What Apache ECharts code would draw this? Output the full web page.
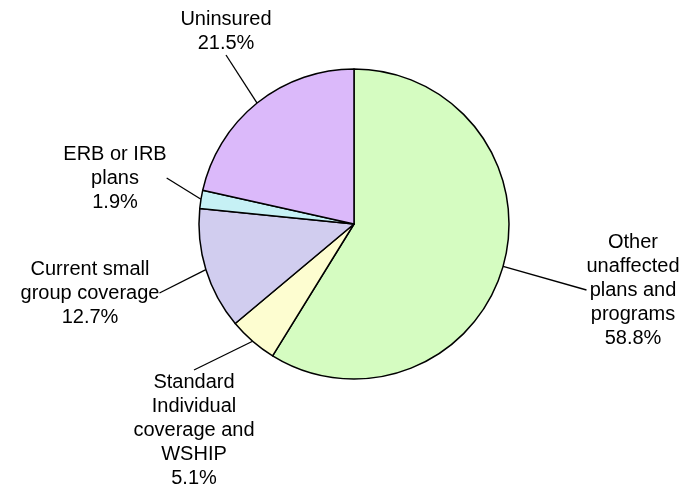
<!DOCTYPE html>
<html><head><meta charset="utf-8">
<script src="https://cdn.jsdelivr.net/npm/echarts@6/dist/echarts.min.js"></script>
<style>html,body{margin:0;padding:0;background:#fff}#c{width:685px;height:489px}</style>
</head><body><div id="c"></div>
<script>
const categories = ["Other\nunaffected\nplans and\nprograms", "Standard\nIndividual\ncoverage and\nWSHIP", "Current small\ngroup coverage", "ERB or IRB\nplans", "Uninsured"];
const values = [58.8, 5.1, 12.7, 1.9, 21.5];
const colors = ["#d5fcc1", "#fdfdd0", "#d1cdef", "#c6f1f5", "#dbb9fa"];
const labelCenters = [[633, 290], [194, 430], [90, 293], [115, 178], [226, 31]];

const chart = echarts.init(document.getElementById('c'), null, {renderer: 'canvas'});
chart.setOption({
  animation: false,
  backgroundColor: '#ffffff',
  series: [{
    type: 'pie',
    center: [354, 224],
    radius: [0, 155],
    startAngle: 90,
    clockwise: true,
    data: categories.map((n, i) => ({name: n, value: values[i], itemStyle: {color: colors[i]}})),
    itemStyle: {borderColor: '#000', borderWidth: 1.5},
    label: {
      show: true,
      formatter: p => p.name + '\n' + p.value.toFixed(1) + '%',
      fontFamily: 'Liberation Sans, Arial, sans-serif',
      fontSize: 20,
      lineHeight: 24,
      color: '#000',
      align: 'center'
    },
    labelLine: {show: true, lineStyle: {color: '#000', width: 1.3}, length: 2, length2: 0},
    labelLayout: function (p) {
      const c = labelCenters[p.dataIndex];
      return {x: c[0], y: c[1], align: 'center', verticalAlign: 'middle'};
    },
    emphasis: {disabled: true}
  }]
});
</script></body></html>
